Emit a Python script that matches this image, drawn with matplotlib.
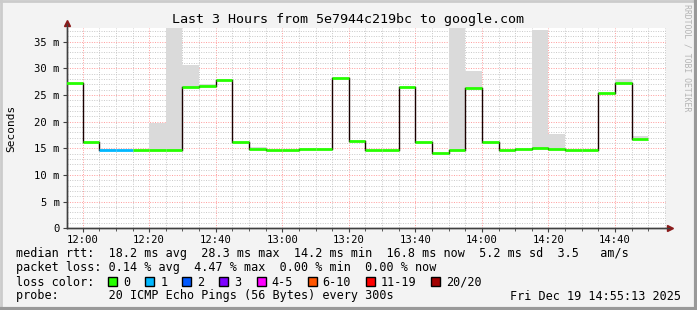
import numpy as np
import matplotlib
matplotlib.use("Agg")
import matplotlib.pyplot as plt
from matplotlib.patches import Rectangle
from matplotlib.lines import Line2D

# 5 minute buckets, first one starts 11:55 (minutes are counted from 12:00)
bucket_start = -5
median_ms = [27.3, 16.2, 14.75, 14.75, 14.75, 14.75, 14.75, 26.4, 26.7, 27.75,
             16.2, 14.95, 14.75, 14.75, 14.8, 14.8, 28.2, 16.4, 14.75, 14.75,
             26.55, 16.2, 14.2, 14.75, 26.3, 16.2, 14.75, 14.95, 15.1, 14.95,
             14.75, 14.75, 25.4, 27.3, 16.8, np.nan]
loss_count = [0, 0, 1, 1, 0, 0, 0, 0, 0, 0,
              0, 0, 0, 0, 0, 0, 0, 0, 0, 0,
              0, 0, 0, 0, 0, 0, 0, 0, 0, 0,
              0, 0, 0, 0, 0, 0]
smoke_max = [np.nan, np.nan, 14.95, np.nan, np.nan, 19.75, 40.0, 30.7, 27.05, 27.95,
             np.nan, 15.2, np.nan, np.nan, np.nan, np.nan, np.nan, np.nan, np.nan, np.nan,
             np.nan, np.nan, np.nan, 40.0, 29.5, np.nan, np.nan, np.nan, 37.2, 17.6,
             np.nan, np.nan, np.nan, 27.95, 17.25, np.nan]

x_ticks = ["12:00", "12:20", "12:40", "13:00", "13:20", "13:40", "14:00", "14:20", "14:40"]
y_ticks = [0, 5, 10, 15, 20, 25, 30, 35]

loss_labels = ["0", "1", "2", "3", "4-5", "6-10", "11-19", "20/20"]
loss_colors = ["#26ff00", "#00b8ff", "#0059ff", "#7e00ff", "#ff00ff", "#ff5500", "#ff0000", "#a10000"]

title = "Last 3 Hours from 5e7944c219bc to google.com"
rtt_line = "median rtt:  18.2 ms avg  28.3 ms max  14.2 ms min  16.8 ms now  5.2 ms sd  3.5   am/s"
loss_line = "packet loss: 0.14 % avg  4.47 % max  0.00 % min  0.00 % now"
probe_line = "probe:       20 ICMP Echo Pings (56 Bytes) every 300s"
stamp = "Fri Dec 19 14:55:13 2025"

W, H = 697, 310
mono = "DejaVu Sans Mono"
fig = plt.figure(figsize=(W / 100, H / 100), dpi=100, facecolor="#f3f3f3")


def px(x, y):
    return x / W, 1 - y / H


# frame
fig.add_artist(Line2D([0, 1], [1 - 1 / H, 1 - 1 / H], color="#cbcbcb", lw=2))
fig.add_artist(Line2D([1 / W, 1 / W], [0, 1], color="#cbcbcb", lw=2))
fig.add_artist(Line2D([0, 1], [1.5 / H, 1.5 / H], color="#999999", lw=3))
fig.add_artist(Line2D([1 - 1.5 / W, 1 - 1.5 / W], [0, 1], color="#999999", lw=3))

x0, x1 = 66.7, 665.7
y0, y1 = 27.7, 228.3
ax = fig.add_axes([x0 / W, 1 - y1 / H, (x1 - x0) / W, (y1 - y0) / H])
ax.set_facecolor("white")
xmin, xmax = -4.78, 175.22
ax.set_xlim(xmin, xmax)
ax.set_ylim(0, 37.6)

dots = (0, (1, 1.5))
for m in np.arange(-5, 180, 5):
    if m % 20 == 0:
        ax.axvline(m, color="#ff9a9a", lw=0.7, ls=dots, zorder=1)
    elif xmin < m < xmax:
        ax.axvline(m, color="#c8c8c8", lw=0.7, ls=dots, zorder=1)
for v in range(1, 38):
    if v % 5 == 0:
        ax.axhline(v, color="#ff9a9a", lw=0.7, ls=dots, zorder=1)
    else:
        ax.axhline(v, color="#c8c8c8", lw=0.7, ls=dots, zorder=1)

starts = [bucket_start + 5 * k for k in range(len(median_ms))]

# smoke
for s, med, top in zip(starts, median_ms, smoke_max):
    if not np.isnan(top):
        ax.fill_between([s, s + 5], med, top, color="#dadada", lw=0, zorder=2)

# vertical connectors
for k in range(len(median_ms) - 1):
    a, b = median_ms[k], median_ms[k + 1]
    if not (np.isnan(a) or np.isnan(b)):
        ax.plot([starts[k + 1]] * 2, [a, b], color="#1a0000", lw=1, zorder=3)

# median line coloured by loss
for s, med, lc in zip(starts, median_ms, loss_count):
    if not np.isnan(med):
        ax.plot([s, s + 5], [med, med], color=loss_colors[lc], lw=2,
                solid_capstyle="butt", zorder=4)

for side in ["top", "right"]:
    ax.spines[side].set_visible(False)
for side in ["left", "bottom"]:
    ax.spines[side].set_color("#404040")
    ax.spines[side].set_linewidth(1)
ax.plot([1.007], [0], marker=">", color="#8b1a1a", ms=5, transform=ax.transAxes, clip_on=False)
ax.plot([0], [1.023], marker="^", color="#8b1a1a", ms=5, transform=ax.transAxes, clip_on=False)
ax.plot([0, 1.005], [0, 0], color="#404040", lw=1, transform=ax.transAxes, clip_on=False)
ax.plot([0, 0], [0, 1.02], color="#404040", lw=1, transform=ax.transAxes, clip_on=False)

tick_pos = [(int(t[:2]) - 12) * 60 + int(t[3:]) for t in x_ticks]
ax.set_xticks(tick_pos)
ax.set_xticklabels(x_ticks)
ax.set_xticks([m for m in range(0, 175, 5)], minor=True)
ax.set_yticks(y_ticks)
ax.set_yticklabels(["0" if v == 0 else f"{v} m" for v in y_ticks])
ax.tick_params(axis="both", which="major", length=3, width=0.8, color="#404040",
               labelsize=7.6, pad=2)
ax.tick_params(axis="x", which="minor", length=2, width=0.6, color="#404040")
for lab in ax.get_xticklabels() + ax.get_yticklabels():
    lab.set_family(mono)

fig.text(*px(348, 19), title, family=mono, fontsize=9.6, ha="center", va="center")
fig.text(*px(11, 128), "Seconds", family=mono, fontsize=8, rotation=90,
         ha="center", va="center")
fig.text(*px(687, 4), "RRDTOOL / TOBI OETIKER", family=mono, fontsize=5.9,
         color="#b4b4b4", rotation=-90, ha="center", va="top")

fs = 8.45
fig.text(*px(16, 254), rtt_line, family=mono, fontsize=fs, va="center")
fig.text(*px(16, 268), loss_line, family=mono, fontsize=fs, va="center")
fig.text(*px(16, 282), "loss color:", family=mono, fontsize=fs, va="center")
fig.text(*px(16, 296), probe_line, family=mono, fontsize=fs, va="center")
fig.text(*px(681, 296), stamp, family=mono, fontsize=fs, va="center", ha="right")

bx = 108.3
for lab, col in zip(loss_labels, loss_colors):
    fig.add_artist(Rectangle(px(bx, 286), 9 / W, 9 / H, facecolor=col,
                             edgecolor="black", lw=1))
    fig.text(*px(bx + 15, 282), lab, family=mono, fontsize=fs, va="center")
    bx += 30 + 7.05 * len(lab)

fig.savefig("out.png", dpi=100, facecolor=fig.get_facecolor())
